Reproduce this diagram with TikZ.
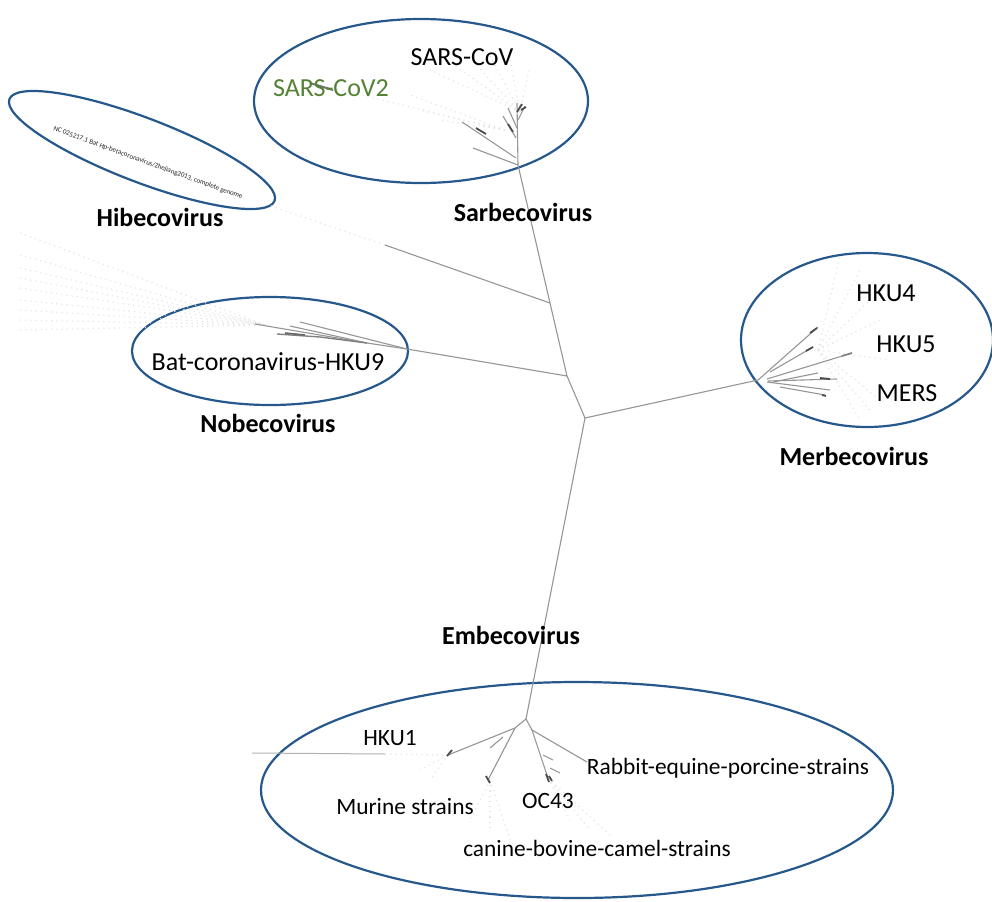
\documentclass[tikz,border=0pt]{standalone}
\usepackage{fontspec}
\setmainfont{Carlito}
\usetikzlibrary{shapes.geometric}
\definecolor{cladeblue}{RGB}{38,88,140}
\definecolor{covgreen}{RGB}{84,130,53}
\definecolor{branchgray}{RGB}{150,150,150}
\begin{document}
\begin{tikzpicture}[x=0.5pt,y=-0.5pt,
  clade/.style={draw=cladeblue, line width=1.1pt, ellipse, inner sep=0pt, outer sep=0pt},
  lbl/.style={font=\fontsize{13pt}{15pt}\selectfont, inner sep=0pt},
  grp/.style={font=\bfseries\fontsize{13pt}{15pt}\selectfont, inner sep=0pt},
  sml/.style={font=\fontsize{11.7pt}{14pt}\selectfont, inner sep=0pt},
  br/.style={draw=branchgray, line width=0.55pt},
  tipline/.style={draw=black!70, line width=0.9pt},
  ghost/.style={draw=black!10, dotted, line width=0.6pt}]
\useasboundingbox (0,0) rectangle (992,901);
\fill[white] (0,0) rectangle (992,901);

% ---------- clade ellipses ----------
\node[clade, rotate=-21, minimum width=142pt, minimum height=32pt] (hibe) at (142,150) {};
\node[clade, minimum width=167pt, minimum height=82pt] (sarbe) at (421,101) {};
\node[clade, minimum width=138pt, minimum height=54pt] (nobe) at (270,351) {};
\node[clade, minimum width=126pt, minimum height=87pt] (merbe) at (867,340) {};
\node[clade, minimum width=316pt, minimum height=108pt] (embe) at (577,790) {};

% ---------- tree junctions ----------
\coordinate (r0) at (585,418);
\coordinate (j1) at (567,376);
\coordinate (j2) at (550,303);
\coordinate (s0) at (518,165);
\coordinate (stop) at (517,103);
\coordinate (h0) at (385,245);
\coordinate (hend) at (268,205);
\coordinate (n0) at (407,349);
\coordinate (na) at (367,343);
\coordinate (m0) at (758,380);
\coordinate (e0) at (526,719);
\coordinate (el) at (515,728);
\coordinate (er) at (532,730);

% ---------- faint dotted fans ----------
\foreach \y in {233,255,268,278,288,300,310,320,330}
  \draw[ghost] (20,\y) -- (265,325);
\draw[ghost] (h0) -- (hend);
\foreach \a/\b in {430/70,450/62,470/58,490/56,510/60,530/66}
  \draw[ghost] (520,112) -- (\a,\b);
\foreach \a/\b in {410/95,420/110,440/120}
  \draw[ghost] (505,130) -- (\a,\b);
\draw[ghost] (505,130) -- (300,80);
\foreach \a/\b in {840/255,860/270,870/300,880/320,890/360,880/400,870/410,860/420}
  \draw[ghost] (818,350) -- (\a,\b);
\foreach \a/\b in {470/820,490/830,510/840}
  \draw[ghost] (490,780) -- (\a,\b);
\foreach \a/\b in {570/820,590/830,610/835}
  \draw[ghost] (548,778) -- (\a,\b);
\foreach \a/\b in {420/770,430/780}
  \draw[ghost] (448,755) -- (\a,\b);
\draw[draw=black!30, line width=0.5pt] (252,753) -- (385,754);
\draw[ghost] (385,754) -- (448,755);

% ---------- backbone ----------
\draw[br] (r0) -- (j1) -- (j2) -- (s0);
\draw[br] (j2) -- (h0);
\draw[br] (j1) -- (n0);
\draw[br] (r0) -- (m0);
\draw[br] (r0) -- (e0);

% ---------- Sarbecovirus subtree ----------
\draw[br] (s0) -- (stop);
\draw[br] (s0) -- (473,148);
\draw[br] (516,158) -- (462,122);
\draw[br] (516,138) -- (503,116);
\draw[br] (517,128) -- (508,108);
\draw[br] (518,120) -- (525,106);
\draw[tipline] (476,128) -- (486,134);
\draw[tipline] (508,124) -- (513,132);
\draw[tipline] (517,112) -- (522,104);
\draw[tipline] (521,110) -- (526,107);
\draw[draw=black!55, line width=1pt] (310,83) -- (333,90);

% ---------- Nobecovirus subtree ----------
\draw[br] (n0) -- (na);
\draw[br] (n0) -- (300,322);
\draw[br] (na) -- (255,324);
\draw[br] (na) -- (290,326);
\draw[draw=black!50, line width=0.7pt] (na) -- (320,337) -- (277,334);
\draw[draw=black!60, line width=0.8pt] (285,333) -- (305,335);

% ---------- Merbecovirus subtree ----------
\draw[br] (m0) -- (818,327);
\draw[br] (770,372) -- (813,347);
\draw[br] (767,379) -- (852,353);
\draw[br] (768,381) -- (837,379);
\draw[br] (773,382) -- (818,373);
\draw[br] (767,382) -- (830,390);
\draw[br] (780,387) -- (825,395);
\draw[tipline] (810,333) -- (817,328);
\draw[tipline] (806,351) -- (813,347);
\draw[tipline] (820,378) -- (830,379);
\draw[tipline] (822,395) -- (826,396);
\draw[draw=black!50, line width=0.8pt] (842,356) -- (852,353);

% ---------- Embecovirus subtree ----------
\draw[br] (e0) -- (el);
\draw[br] (e0) -- (er);
\draw[br] (el) -- (448,755);
\draw[br] (el) -- (488,780);
\draw[br] (490,748) -- (503,737);
\draw[br] (er) -- (548,778);
\draw[br] (er) -- (587,762);
\draw[br] (543,755) -- (553,760);
\draw[br] (550,768) -- (560,773);
\draw[tipline] (447,756) -- (452,750);
\draw[tipline] (486,776) -- (490,783);
\draw[tipline] (546,774) -- (549,782);
\draw[tipline] (549,776) -- (552,781);

% ---------- labels ----------
\node[rotate=-20, inner sep=0pt, text=black!85, font=\fontsize{3.5pt}{4pt}\selectfont] (hibetxt) at (148,163) {NC 025217.1 Bat Hp-betacoronavirus/Zhejiang2013, complete genome};
\node[grp] (hibelbl) at (160,217) {Hibecovirus};

\node[lbl] (sarscov) at (462,57) {SARS-CoV};
\node[lbl, text=covgreen] (sarscov2) at (331,88) {SARS-CoV2};
\node[grp] (sarbelbl) at (523,212) {Sarbecovirus};

\node[lbl] (hku9) at (268,362) {Bat-coronavirus-HKU9};
\node[grp] (nobelbl) at (268,423) {Nobecovirus};

\node[lbl] (hku4) at (886,293) {HKU4};
\node[lbl] (hku5) at (906,344) {HKU5};
\node[lbl] (mers) at (907,393) {MERS};
\node[grp] (merbelbl) at (854,456) {Merbecovirus};

\node[grp] (embelbl) at (511,635) {Embecovirus};
\node[sml] (hku1) at (390,738) {HKU1};
\node[sml] (rabbit) at (728,768) {Rabbit-equine-porcine-strains};
\node[sml] (murine) at (405,807) {Murine strains};
\node[sml] (oc43) at (548,801) {OC43};
\node[sml] (canine) at (597,848) {canine-bovine-camel-strains};
\end{tikzpicture}
\end{document}
